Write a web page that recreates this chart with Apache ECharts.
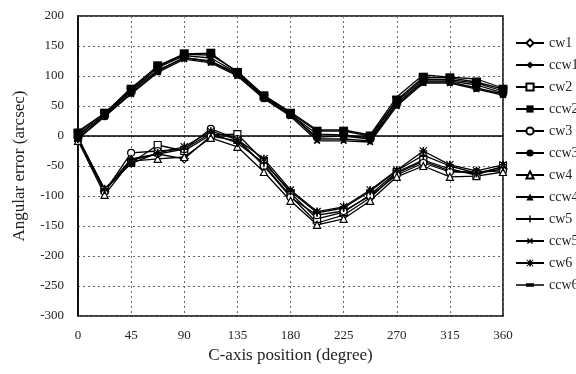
<!DOCTYPE html>
<html>
<head>
<meta charset="utf-8">
<script src="https://cdn.jsdelivr.net/npm/echarts@6/dist/echarts.min.js"></script>
<style>
html,body{margin:0;padding:0;background:#fff;}
#chart{width:576px;height:374px;}
</style>
</head>
<body>
<div id="chart"></div>
<script>
// C-axis position, degrees
const positions = [0, 22.5, 45, 67.5, 90, 112.5, 135, 157.5, 180, 202.5, 225, 247.5, 270, 292.5, 315, 337.5, 360];

// angular error, arcsec
const cw1  = [-3, -92, -40, -30, -38, 0, -8, -48, -100, -145, -132, -103, -62, -42, -58, -62, -55];
const ccw1 = [2, 35, 75, 110, 130, 125, 104, 65, 37, -5, -5, -8, 55, 92, 92, 85, 72];
const cw2  = [-2, -90, -45, -15, -25, 2, 3, -42, -95, -138, -127, -98, -60, -40, -55, -65, -50];
const ccw2 = [5, 38, 78, 117, 137, 138, 106, 67, 38, 8, 8, 0, 60, 98, 97, 90, 78];
const cw3  = [-5, -93, -28, -25, -22, 12, -5, -50, -102, -132, -125, -100, -65, -45, -60, -60, -58];
const ccw3 = [-3, 33, 72, 108, 131, 124, 102, 63, 35, -2, 0, -5, 52, 90, 90, 80, 70];
const cw4  = [-8, -98, -42, -38, -35, -3, -18, -60, -108, -148, -138, -108, -68, -50, -68, -67, -60];
const ccw4 = [0, 36, 76, 114, 134, 130, 105, 66, 36, 3, 2, -3, 58, 95, 94, 88, 75];
const cw5  = [-5, -90, -38, -30, -22, 5, -12, -45, -92, -128, -120, -92, -58, -32, -50, -62, -52];
const ccw5 = [-5, 32, 70, 106, 128, 122, 100, 62, 33, -8, -8, -10, 50, 88, 88, 78, 68];
const cw6  = [-4, -88, -46, -28, -18, 8, -6, -38, -90, -126, -118, -90, -57, -25, -48, -58, -48];
const ccw6 = [8, 38, 80, 116, 136, 135, 108, 68, 40, 10, 10, 2, 65, 102, 98, 95, 80];

const PLUS = 'path://M4,0H6V4H10V6H6V10H4V6H0V4H4Z';
const ASTER = 'path://M4,0H6V4H10V6H6V10H4V6H0V4H4Z M1,0L5,4L9,0L10,1L6,5L10,9L9,10L5,6L1,10L0,9L4,5L0,1Z';
const DASH = 'path://M0,0H10V2H0Z';
// legend icon for ccw6: line with a short thick dash
const DASH_ICON = 'path://M0,4H28V5.3H0Z M10,3H18V6.3H10Z';

const font = '"Liberation Serif", "Times New Roman", serif';

function mk(name, data, symbol, open, size, rotate) {
  return {
    name: name,
    type: 'line',
    data: data.map((v, i) => [positions[i], v]),
    symbol: symbol,
    symbolSize: size || 7,
    symbolRotate: rotate || 0,
    showSymbol: true,
    lineStyle: { color: '#000', width: 1.3 },
    itemStyle: {
      color: open ? '#fff' : '#000',
      borderColor: '#000',
      borderWidth: open ? 1.2 : 0
    },
    emphasis: { disabled: true },
    animation: false
  };
}

const series = [
  mk('cw1', cw1, 'diamond', true, 8),
  mk('ccw1', ccw1, 'diamond', false, 8),
  mk('cw2', cw2, 'rect', true, 7),
  mk('ccw2', ccw2, 'rect', false, 9),
  mk('cw3', cw3, 'circle', true, 7),
  mk('ccw3', ccw3, 'circle', false, 8),
  mk('cw4', cw4, 'triangle', true, 7),
  mk('ccw4', ccw4, 'triangle', false, 8),
  mk('cw5', cw5, PLUS, false, 8),
  mk('ccw5', ccw5, PLUS, false, 8, 45),
  mk('cw6', cw6, ASTER, false, 8),
  mk('ccw6', ccw6, DASH, false, [9, 2])
];

let myChart = echarts.init(document.getElementById('chart'));

let option = {
  backgroundColor: '#fff',
  animation: false,
  grid: {
    left: 78,
    right: 73,
    top: 16,
    bottom: 58,
    show: true,
    borderColor: '#000',
    borderWidth: 1.5
  },
  legend: {
    orient: 'vertical',
    left: 510,
    top: 31,
    itemWidth: 28,
    itemHeight: 9,
    itemGap: 8,
    textStyle: { fontFamily: font, fontSize: 14, color: '#222' },
    data: series.map(s => s.name === 'ccw6'
      ? { name: 'ccw6', icon: DASH_ICON, itemStyle: { color: '#000' } }
      : s.name)
  },
  xAxis: {
    type: 'value',
    min: 0,
    max: 360,
    interval: 45,
    name: 'C-axis position (degree)',
    nameLocation: 'middle',
    nameGap: 30,
    nameTextStyle: { fontFamily: font, fontSize: 17, color: '#222' },
    axisLine: { lineStyle: { color: '#000', width: 1.5 } },
    axisTick: { show: false },
    axisLabel: { fontFamily: font, fontSize: 13, color: '#222', margin: 13 },
    splitLine: { show: true, lineStyle: { color: '#666', type: [2, 3], width: 1 } }
  },
  yAxis: {
    type: 'value',
    min: -300,
    max: 200,
    interval: 50,
    name: 'Angular error (arcsec)',
    nameLocation: 'middle',
    nameGap: 50,
    nameTextStyle: { fontFamily: font, fontSize: 17, color: '#222' },
    axisLine: { lineStyle: { color: '#000', width: 1.5 } },
    axisTick: { show: false },
    axisLabel: { fontFamily: font, fontSize: 13, color: '#222', margin: 14 },
    splitLine: { show: true, lineStyle: { color: '#666', type: [2, 3], width: 1 } }
  },
  series: series
};

myChart.setOption(option);
</script>
</body>
</html>
